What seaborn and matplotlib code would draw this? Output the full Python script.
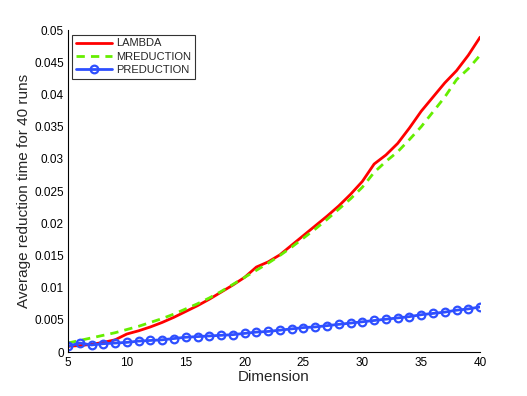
import numpy as np
import pandas as pd
import seaborn as sns
from matplotlib import pyplot as plt
from matplotlib.ticker import FuncFormatter

dims = list(range(5, 41))
lambda_t = [0.0009, 0.0010, 0.0012, 0.0015, 0.0019, 0.0028, 0.0033, 0.0039, 0.0046, 0.0054,
            0.0063, 0.0072, 0.0082, 0.0093, 0.0104, 0.0116, 0.0132, 0.0140, 0.0151, 0.0166,
            0.0181, 0.0196, 0.0211, 0.0227, 0.0245, 0.0265, 0.0292, 0.0306, 0.0324, 0.0348,
            0.0374, 0.0396, 0.0418, 0.0437, 0.0461, 0.0489]
mreduction_t = [0.0014, 0.0018, 0.0022, 0.0026, 0.0030, 0.0035, 0.0040, 0.0046, 0.0052, 0.0059,
                0.0067, 0.0075, 0.0084, 0.0094, 0.0105, 0.0116, 0.0127, 0.0138, 0.0150, 0.0163,
                0.0177, 0.0191, 0.0206, 0.0222, 0.0238, 0.0256, 0.0279, 0.0296, 0.0311, 0.0330,
                0.0350, 0.0373, 0.0396, 0.0423, 0.0440, 0.0461]
preduction_t = [0.0009, 0.0014, 0.0011, 0.0013, 0.0014, 0.0015, 0.0017, 0.0018, 0.0019, 0.0021,
                0.0023, 0.0024, 0.0025, 0.0026, 0.0027, 0.0029, 0.0031, 0.0032, 0.0034, 0.0036,
                0.0038, 0.0039, 0.0041, 0.0043, 0.0045, 0.0047, 0.0049, 0.0051, 0.0053, 0.0055,
                0.0058, 0.0060, 0.0062, 0.0065, 0.0067, 0.0070]

sns.set_style('white')
plt.rcParams['font.family'] = ['Liberation Sans', 'DejaVu Sans']

fig = plt.figure(figsize=(5.27, 3.96), dpi=100)
ax = fig.add_axes([0.129, 0.111, 0.782, 0.813])

sns.lineplot(x=dims, y=lambda_t, ax=ax, color='#ff0000', lw=2, label='LAMBDA')
sns.lineplot(x=dims, y=mreduction_t, ax=ax, color='#66ee00', lw=2, label='MREDUCTION')
sns.lineplot(x=dims, y=preduction_t, ax=ax, color='#2e4fff', lw=2, label='PREDUCTION')

# matlab-ish line styles
l_red, l_green, l_blue = ax.lines[:3]
l_red.set_linestyle('-')
l_green.set_linestyle((0, (3, 2.2)))
l_blue.set_linestyle('-')
l_blue.set_marker('o')
l_blue.set_markersize(5.5)
l_blue.set_markerfacecolor('none')
l_blue.set_markeredgecolor('#2e4fff')
l_blue.set_markeredgewidth(1.6)

ax.set_xlim(5, 40)
ax.set_ylim(0, 0.05)
ax.set_xticks(range(5, 41, 5))
ax.set_yticks(np.arange(0, 0.0501, 0.005))
ax.yaxis.set_major_formatter(FuncFormatter(lambda v, p: '%g' % round(v, 4)))
ax.tick_params(direction='in', length=4, width=0.8, labelsize=8.5, colors='black')
ax.tick_params(axis='y', pad=3)
ax.set_xlabel('Dimension', fontsize=11, labelpad=1)
ax.set_ylabel('Average reduction time for 40 runs', fontsize=11, labelpad=2)
for s in ['top', 'right']:
    ax.spines[s].set_visible(False)
for s in ['left', 'bottom']:
    ax.spines[s].set_color('black')
    ax.spines[s].set_linewidth(0.8)

leg = ax.legend(loc='upper left', fontsize=8, frameon=True, fancybox=False,
                borderaxespad=0.4, handlelength=3.2, labelspacing=0.3,
                borderpad=0.35, handletextpad=0.4)
leg.get_frame().set_edgecolor('black')
leg.get_frame().set_linewidth(0.8)

fig.savefig('out.png', dpi=100)
